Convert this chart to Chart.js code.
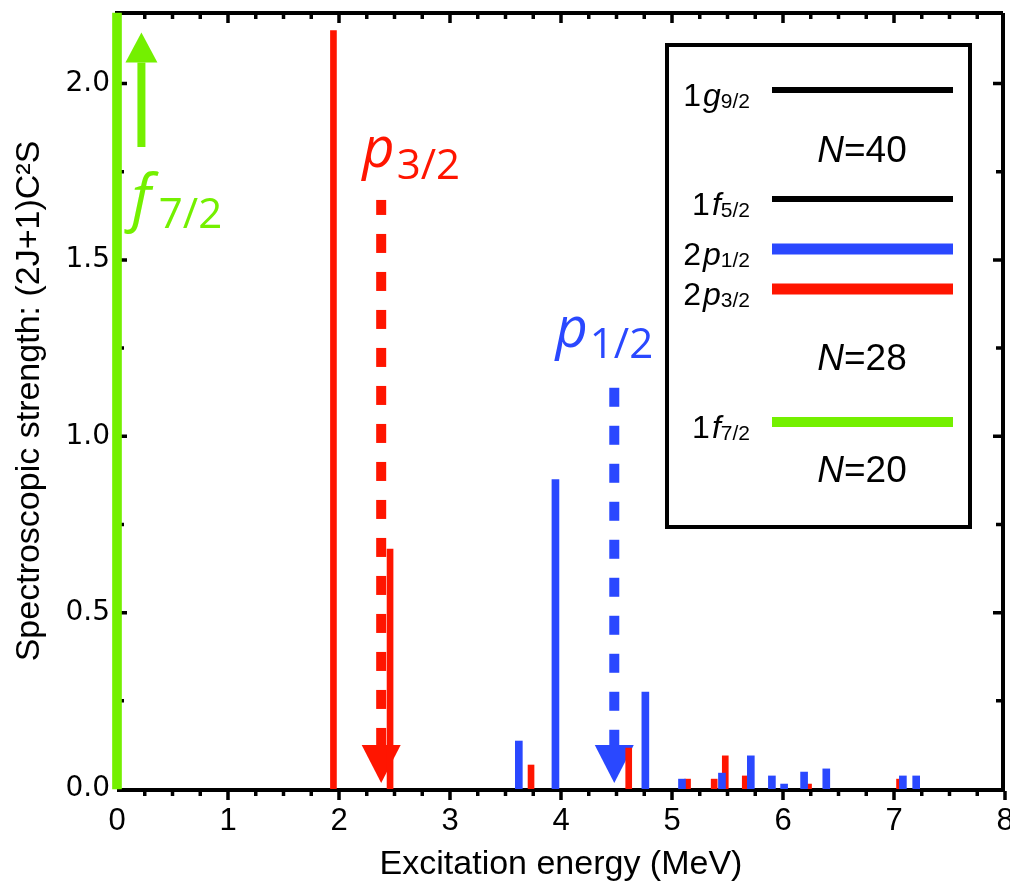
<!DOCTYPE html>
<html>
<head>
<meta charset="utf-8">
<script src="https://cdn.jsdelivr.net/npm/chart.js@4.4.0/dist/chart.umd.min.js"></script>
<style>
  html, body { margin: 0; padding: 0; background: #fff; }
  canvas { display: block; }
</style>
</head>
<body>
<canvas id="chart" width="1010" height="886" style="width:1010px;height:886px"></canvas>
<script>
// Strength distributions (MeV, (2J+1)C2S)
const p32Energy = [1.95, 2.46, 3.73, 4.61, 5.14, 5.38, 5.48, 5.66, 6.23, 7.05];
const p32Strength = [2.15, 0.68, 0.068, 0.116, 0.028, 0.028, 0.094, 0.037, 0.014, 0.028];
const p12Energy = [3.62, 3.95, 4.76, 5.09, 5.45, 5.71, 5.90, 6.01, 6.19, 6.39, 7.08, 7.20];
const p12Strength = [0.136, 0.877, 0.275, 0.028, 0.045, 0.094, 0.037, 0.014, 0.048, 0.057, 0.037, 0.037];
const f72Energy = [0];
const f72Strength = [2.2]; // goes off the top

// centroids (dashed arrows)
const p32Centroid = 2.38;
const p12Centroid = 4.48;

const xTicks = [0, 1, 2, 3, 4, 5, 6, 7, 8];
const yTicks = [0, 0.5, 1, 1.5, 2];
const yTickLabels = ["0.0", "0.5", "1.0", "1.5", "2.0"];

// inset level scheme
const levelShell = ["1", "1", "2", "2", "1"];
const levelOrbit = ["g", "f", "p", "p", "f"];
const levelJ = ["9/2", "5/2", "1/2", "3/2", "7/2"];
const gapNumbers = ["40", "28", "20"];

const RED = "#ff1500";
const BLUE = "#2a48ff";
const GREEN = "#74f000";
const FONT = "'Liberation Sans', Arial, sans-serif";
const ANNOT = "'Open Sans', 'Liberation Sans', sans-serif";

Chart.defaults.font.family = FONT;
Chart.defaults.color = "#000";

// text made of pieces: [text, font, dy, gapBefore]
function drawRich(ctx, parts, x, y, align) {
  let w = 0;
  parts.forEach(p => { ctx.font = p[1]; w += ctx.measureText(p[0]).width + (p[3] || 0); });
  let cx = align === "right" ? x - w : align === "center" ? x - w / 2 : x;
  parts.forEach(p => {
    ctx.font = p[1];
    cx += p[3] || 0;
    ctx.fillText(p[0], cx, y + (p[2] || 0));
    cx += ctx.measureText(p[0]).width;
  });
}

function arrowHead(ctx, x, yBase, yTip, halfW, color) {
  ctx.fillStyle = color;
  ctx.beginPath();
  ctx.moveTo(x - halfW, yBase);
  ctx.lineTo(x + halfW, yBase);
  ctx.lineTo(x, yTip);
  ctx.closePath();
  ctx.fill();
}

const decor = {
  id: "decor",
  beforeDatasetsDraw(chart) {
    const { ctx, chartArea: ca } = chart;
    const xs = chart.scales.x, ys = chart.scales.y;
    ctx.save();

    // frame
    ctx.strokeStyle = "#000";
    ctx.lineWidth = 4;
    ctx.beginPath();
    ctx.moveTo(ca.left, ca.bottom + 1); ctx.lineTo(ca.right, ca.bottom + 1);
    ctx.moveTo(ca.left, ca.bottom); ctx.lineTo(ca.left, ca.top);
    ctx.moveTo(ca.left - 2, ca.top); ctx.lineTo(ca.right - 2, ca.top);
    ctx.moveTo(ca.right - 2, ca.top); ctx.lineTo(ca.right - 2, ca.bottom);
    ctx.stroke();

    // ticks: every 0.25, longer on the labelled values
    ctx.lineWidth = 3.5;
    ctx.beginPath();
    for (let v = 0; v <= 8.001; v += 0.25) {
      const px = xs.getPixelForValue(v);
      const major = Math.abs(v - Math.round(v)) < 1e-6;
      if (v > 0) {
        ctx.moveTo(px, ca.bottom + 2); ctx.lineTo(px, ca.bottom + (major ? 11 : 7));
      }
      if (v > 0 && v < 8) {
        ctx.moveTo(px, ca.top); ctx.lineTo(px, ca.top + (major ? 10 : 6));
      }
    }
    for (let v = 0.25; v <= 2.2; v += 0.25) {
      const py = ys.getPixelForValue(v);
      const major = Math.abs(v * 2 - Math.round(v * 2)) < 1e-6;
      ctx.moveTo(ca.left, py); ctx.lineTo(ca.left + (major ? 10 : 7), py);
      ctx.moveTo(ca.right - 2, py); ctx.lineTo(ca.right - (major ? 12 : 9), py);
    }
    ctx.stroke();

    // dashed centroid arrows
    const dashed = (e, from, color, offset) => {
      const px = xs.getPixelForValue(e);
      const baseY = ca.bottom - 44;
      ctx.strokeStyle = color;
      ctx.lineWidth = 10;
      ctx.setLineDash([19, 19]);
      ctx.lineDashOffset = offset;
      ctx.beginPath();
      ctx.moveTo(px, ys.getPixelForValue(from));
      ctx.lineTo(px, baseY);
      ctx.stroke();
      ctx.setLineDash([]);
      arrowHead(ctx, px, baseY, ca.bottom - 6, 19.5, color);
    };
    dashed(p32Centroid, 1.67, RED, 4);
    dashed(p12Centroid, 1.146, BLUE, -3);

    // green arrow: f7/2 strength goes off scale
    const gx = xs.getPixelForValue(0.22);
    ctx.strokeStyle = GREEN;
    ctx.lineWidth = 8;
    ctx.beginPath();
    ctx.moveTo(gx, ys.getPixelForValue(1.82));
    ctx.lineTo(gx, ys.getPixelForValue(2.06));
    ctx.stroke();
    arrowHead(ctx, gx, ys.getPixelForValue(2.06), ys.getPixelForValue(2.145), 16, GREEN);

    // orbit labels
    ctx.textBaseline = "alphabetic";
    ctx.fillStyle = RED;
    drawRich(ctx, [["p", "italic 56px " + ANNOT], ["3/2", "42px " + ANNOT, 12, 2]],
      xs.getPixelForValue(2.21), ys.getPixelForValue(1.762), "left");
    ctx.fillStyle = BLUE;
    drawRich(ctx, [["p", "italic 56px " + ANNOT], ["1/2", "42px " + ANNOT, 11, 2]],
      xs.getPixelForValue(3.95), ys.getPixelForValue(1.254), "left");
    ctx.fillStyle = GREEN;
    drawRich(ctx, [["f", "italic 62px " + ANNOT], ["7/2", "42px " + ANNOT, 9, 8]],
      xs.getPixelForValue(0.13), ys.getPixelForValue(1.615), "left");

    // inset box with the level scheme
    ctx.fillStyle = "#fff";
    ctx.fillRect(667, 45, 303, 482);
    ctx.strokeStyle = "#000";
    ctx.lineWidth = 4;
    ctx.strokeRect(667, 45, 303, 482);

    const lineY = [90, 199, 249, 289, 422];
    const lineW = [6, 6, 11, 11, 10];
    const lineC = ["#000", "#000", BLUE, RED, GREEN];
    levelJ.forEach((j, i) => {
      ctx.strokeStyle = lineC[i];
      ctx.lineWidth = lineW[i];
      ctx.beginPath();
      ctx.moveTo(772, lineY[i]);
      ctx.lineTo(953, lineY[i]);
      ctx.stroke();
      ctx.fillStyle = "#000";
      drawRich(ctx, [
        [levelShell[i], "32px " + FONT],
        [levelOrbit[i], "italic 32px " + FONT, 0, 2],
        [j, "21px " + FONT, 2]
      ], 750, lineY[i] + 16, "right");
    });

    const gapY = [162, 370, 482];
    gapNumbers.forEach((n, i) => {
      ctx.fillStyle = "#000";
      drawRich(ctx, [["N", "italic 37px " + FONT], ["=" + n, "37px " + FONT]], 862, gapY[i], "center");
    });

    ctx.restore();
  }
};

const toPoints = (xs, ys) => xs.map((x, i) => ({ x: x, y: ys[i] }));

new Chart(document.getElementById("chart"), {
  type: "bar",
  data: {
    datasets: [
      { label: "2p1/2", data: toPoints(p12Energy, p12Strength), backgroundColor: BLUE, barThickness: 7, order: 0 },
      { label: "2p3/2", data: toPoints(p32Energy, p32Strength), backgroundColor: RED, barThickness: 6, order: 1 },
      { label: "1f7/2", data: toPoints(f72Energy, f72Strength), backgroundColor: GREEN, barThickness: 9, order: 2, clip: false }
    ]
  },
  options: {
    responsive: false,
    animation: false,
    layout: { padding: { top: 13, right: 5, left: 0, bottom: 0 } },
    datasets: { bar: { grouped: false, borderWidth: 0 } },
    plugins: { legend: { display: false }, tooltip: { enabled: false } },
    scales: {
      x: {
        type: "linear",
        min: 0,
        max: 8,
        offset: false,
        grid: { display: false, drawTicks: false },
        border: { display: false },
        afterBuildTicks: s => { s.ticks = xTicks.map(v => ({ value: v })); },
        afterFit: s => { s.height = 97; s.paddingLeft = 0; s.paddingRight = 0; },
        ticks: {
          autoSkip: false,
          maxRotation: 0,
          padding: 14,
          font: { size: 31, family: FONT },
          color: "#000",
          callback: (v, i) => String(xTicks[i])
        },
        title: {
          display: true,
          text: "Excitation energy (MeV)",
          font: { size: 34, family: FONT },
          color: "#000",
          padding: { top: 0, bottom: 1 }
        }
      },
      y: {
        type: "linear",
        min: 0,
        max: 2.2,
        grid: { display: false, drawTicks: false },
        border: { display: false },
        afterBuildTicks: s => { s.ticks = yTicks.map(v => ({ value: v })); },
        afterFit: s => { s.width = 117; s.paddingTop = 0; s.paddingBottom = 0; },
        ticks: {
          autoSkip: false,
          padding: 7,
          font: { size: 28, family: "'DejaVu Sans', sans-serif" },
          color: "#000",
          callback: (v, i) => yTickLabels[i]
        },
        title: {
          display: true,
          text: "Spectroscopic strength: (2J+1)C²S",
          font: { size: 34, family: FONT },
          color: "#000",
          padding: { top: 9, bottom: 0 }
        }
      }
    }
  },
  plugins: [decor]
});
</script>
</body>
</html>
